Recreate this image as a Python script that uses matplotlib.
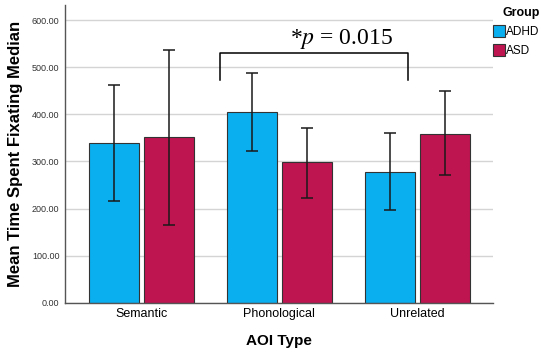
import numpy as np
import matplotlib.pyplot as plt

# data
categories = ['Semantic', 'Phonological', 'Unrelated']
groups = ['ADHD', 'ASD']
adhd_mean = [340, 405, 278]
adhd_lo = [217, 322, 196]
adhd_hi = [463, 487, 361]
asd_mean = [351, 298, 359]
asd_lo = [165, 223, 271]
asd_hi = [536, 372, 450]
yticks = [0, 100, 200, 300, 400, 500, 600]
colors = ['#0AAFF0', '#BE1450']

plt.rcParams['font.family'] = ['Liberation Sans', 'DejaVu Sans']
plt.rcParams['mathtext.fontset'] = 'stix'

fig = plt.figure(figsize=(5.5, 3.55), dpi=100)
ax = fig.add_axes([0.118, 0.147, 0.778, 0.839])

x = np.arange(len(categories))
w = 0.36
off = 0.2
for i, (m, lo, hi) in enumerate([(adhd_mean, adhd_lo, adhd_hi), (asd_mean, asd_lo, asd_hi)]):
    m = np.array(m)
    err = [m - np.array(lo), np.array(hi) - m]
    xs = x + (off if i else -off)
    ax.bar(xs, m, width=w, color=colors[i], edgecolor='#333333', linewidth=0.8,
           label=groups[i], zorder=2)
    ax.errorbar(xs, m, yerr=err, fmt='none', ecolor='#1a1a1a', elinewidth=1.1,
                capsize=4.5, capthick=1.1, zorder=3)

ax.set_xlim(-0.554, 2.547)
ax.set_ylim(0, 632)
ax.set_yticks(yticks)
ax.set_yticklabels([f'{v:.2f}' for v in yticks], fontsize=6.5, color='#333333')
ax.set_xticks(x)
ax.set_xticklabels(categories, fontsize=9)
ax.tick_params(axis='both', length=0, pad=4)
ax.yaxis.grid(True, color='#d4d4d4', linewidth=1)
ax.set_axisbelow(True)
for s in ['top', 'right']:
    ax.spines[s].set_visible(False)
for s in ['left', 'bottom']:
    ax.spines[s].set_color('#555555')
    ax.spines[s].set_linewidth(1)

ax.set_ylabel('Mean Time Spent Fixating Median', fontsize=12, fontweight='bold', labelpad=6)
ax.set_xlabel('AOI Type', fontsize=11, fontweight='bold', labelpad=10)

# significance bracket
ax.plot([0.569, 0.569, 1.931, 1.931], [473, 530, 530, 473], color='black', lw=1.1,
        zorder=6, clip_on=False)
ax.text(1.45, 549, r'*$p$ = 0.015', ha='center', va='baseline', fontsize=17,
        family='Liberation Serif', zorder=5,
        bbox=dict(facecolor='white', edgecolor='none', pad=1))

leg = ax.legend(title='Group', loc='upper left', bbox_to_anchor=(0.995, 1.0),
                frameon=False, fontsize=8.5, handlelength=1.0, handleheight=1.2,
                handletextpad=0.1, borderaxespad=0, borderpad=0.2)
leg.get_title().set_fontweight('bold')
leg.get_title().set_fontsize(9)
leg._legend_box.align = 'right'

fig.savefig('out.png', dpi=100)
